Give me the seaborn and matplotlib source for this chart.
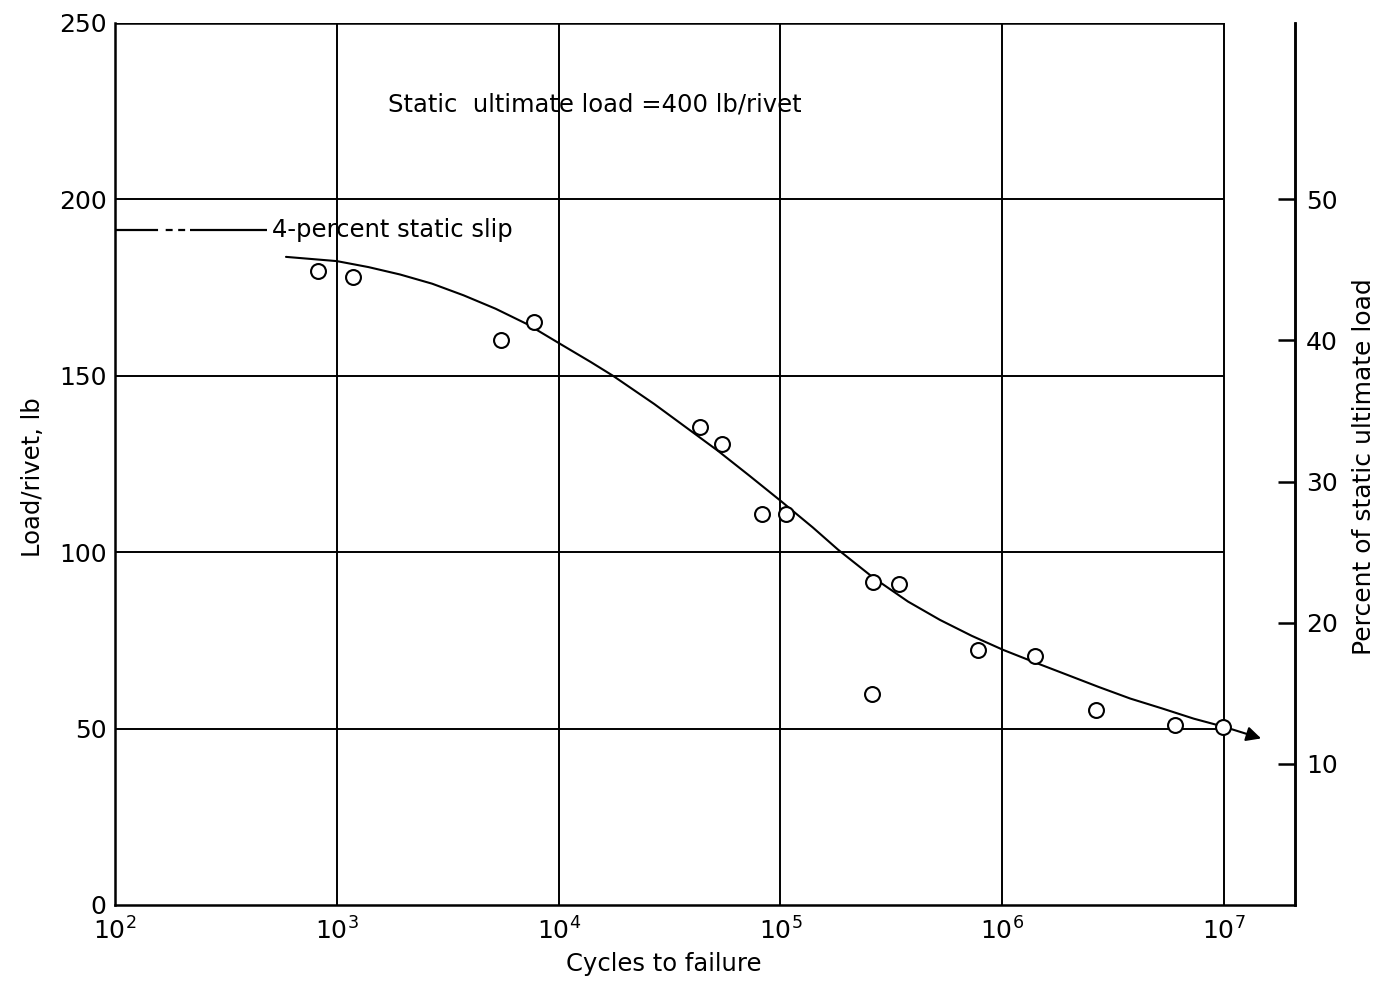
import matplotlib
matplotlib.use("Agg")
import matplotlib.pyplot as plt
import seaborn as sns
import pandas as pd

# test points: cycles to failure vs load per rivet (lb)
cycles = [820, 1180, 5480, 7730, 43500, 54300, 82800, 106000,
          262000, 342000, 258000, 780000, 1.41e6, 2.64e6, 6.0e6, 9.9e6]
load = [179.7, 178.0, 160.1, 165.1, 135.4, 130.8, 110.8, 110.8,
        91.5, 91.0, 59.9, 72.2, 70.5, 55.4, 50.9, 50.5]

# faired S-N curve
curve_cycles = [590, 1000, 1390, 1930, 2690, 3730, 5200, 7230, 1.0e4,
                13960, 17580, 26980, 37500, 52100, 72400, 1.0e5, 140000,
                182000, 262000, 376000, 524000, 728000, 1.01e6, 1.41e6,
                1.95e6, 2.72e6, 3.78e6, 5.26e6, 7.31e6, 1.0e7]
curve_load = [183.7, 182.5, 180.8, 178.7, 176.1, 172.8, 169.0, 164.6, 159.3,
              153.9, 150.0, 142.0, 135.4, 128.8, 121.7, 114.6, 107.0,
              100.7, 92.8, 86.0, 80.8, 76.3, 72.3, 68.7,
              65.3, 61.8, 58.5, 55.7, 52.8, 50.5]
arrow_tip = (1.47e7, 47.2)

ultimate_load = 400
slip_load = 191.3
slip_end = 484

x_ticks = [1e2, 1e3, 1e4, 1e5, 1e6, 1e7]
y_ticks = [0, 50, 100, 150, 200, 250]
pct_ticks = [10, 20, 30, 40, 50]

sns.set_style("white")
plt.rcParams["font.family"] = ["DejaVu Sans"]
plt.rcParams["lines.scale_dashes"] = False
for key in ["text.color", "axes.labelcolor", "xtick.color", "ytick.color"]:
    plt.rcParams[key] = "black"

pts = pd.DataFrame({"cycles": cycles, "load": load})
crv = pd.DataFrame({"cycles": curve_cycles, "load": curve_load})

fig = plt.figure(figsize=(13.84, 9.86), dpi=100)
ax = fig.add_axes([0.0831, 0.0822, 0.8526, 0.8945])
ax.set_xscale("log")
ax.set_xlim(1e2, 2.09e7)
ax.set_ylim(0, 250)

lw_frame = 1.8
# grid only spans 10^2..10^7
ax.vlines(x_ticks[1:], 0, 250, color="black", lw=1.4, zorder=1)
ax.hlines(y_ticks[1:-1], x_ticks[0], x_ticks[-1], color="black", lw=1.4, zorder=1)
ax.hlines(250, x_ticks[0], x_ticks[-1], color="black", lw=lw_frame, zorder=1)

sns.lineplot(data=crv, x="cycles", y="load", ax=ax, color="black", lw=1.5,
             sort=False, estimator=None, zorder=3)
ax.annotate("", xy=arrow_tip, xytext=(curve_cycles[-1], curve_load[-1]),
            arrowprops=dict(arrowstyle="-|>", color="black", lw=1.5,
                            mutation_scale=22, shrinkA=0, shrinkB=0))
sns.scatterplot(data=pts, x="cycles", y="load", ax=ax, s=115, marker="o",
                facecolor="white", edgecolor="black", linewidth=1.5, zorder=4)

# 4-percent static slip line
ax.plot([x_ticks[0], slip_end], [slip_load, slip_load], color="black", lw=1.6,
        linestyle=(0, (31, 5.5, 5, 4, 5, 3.5, 60)))
ax.text(510, slip_load, "4-percent static slip", fontsize=17.5, va="center", ha="left")
ax.text(14500, 227, f"Static  ultimate load ={ultimate_load} lb/rivet",
        fontsize=17.5, va="center", ha="center")

ax.set_xticks(x_ticks)
ax.set_yticks(y_ticks)
ax.minorticks_off()
ax.tick_params(axis="both", length=0, labelsize=18)
ax.tick_params(axis="x", pad=9)
ax.tick_params(axis="y", pad=6)
for side in ["left", "bottom", "right"]:
    ax.spines[side].set_linewidth(lw_frame)
    ax.spines[side].set_color("black")
ax.spines["top"].set_visible(False)

ax.set_xlabel("Cycles to failure", fontsize=17.5)
ax.set_ylabel("Load/rivet, lb", fontsize=17.5)
ax.xaxis.set_label_coords(0.465, -0.053)
ax.yaxis.set_label_coords(-0.059, 0.485)

ax2 = ax.twinx()
ax2.set_ylim(0, 250 / ultimate_load * 100)
ax2.set_yticks(pct_ticks)
ax2.tick_params(axis="y", direction="in", length=12, width=lw_frame,
                labelsize=18, pad=8, colors="black")
for side in ["left", "bottom", "top"]:
    ax2.spines[side].set_visible(False)
ax2.spines["right"].set_linewidth(lw_frame)
ax2.spines["right"].set_color("black")
ax2.set_ylabel("Percent of static ultimate load", fontsize=18)
ax2.yaxis.set_label_coords(1.048, 0.497)

fig.savefig("out.png", dpi=100)
